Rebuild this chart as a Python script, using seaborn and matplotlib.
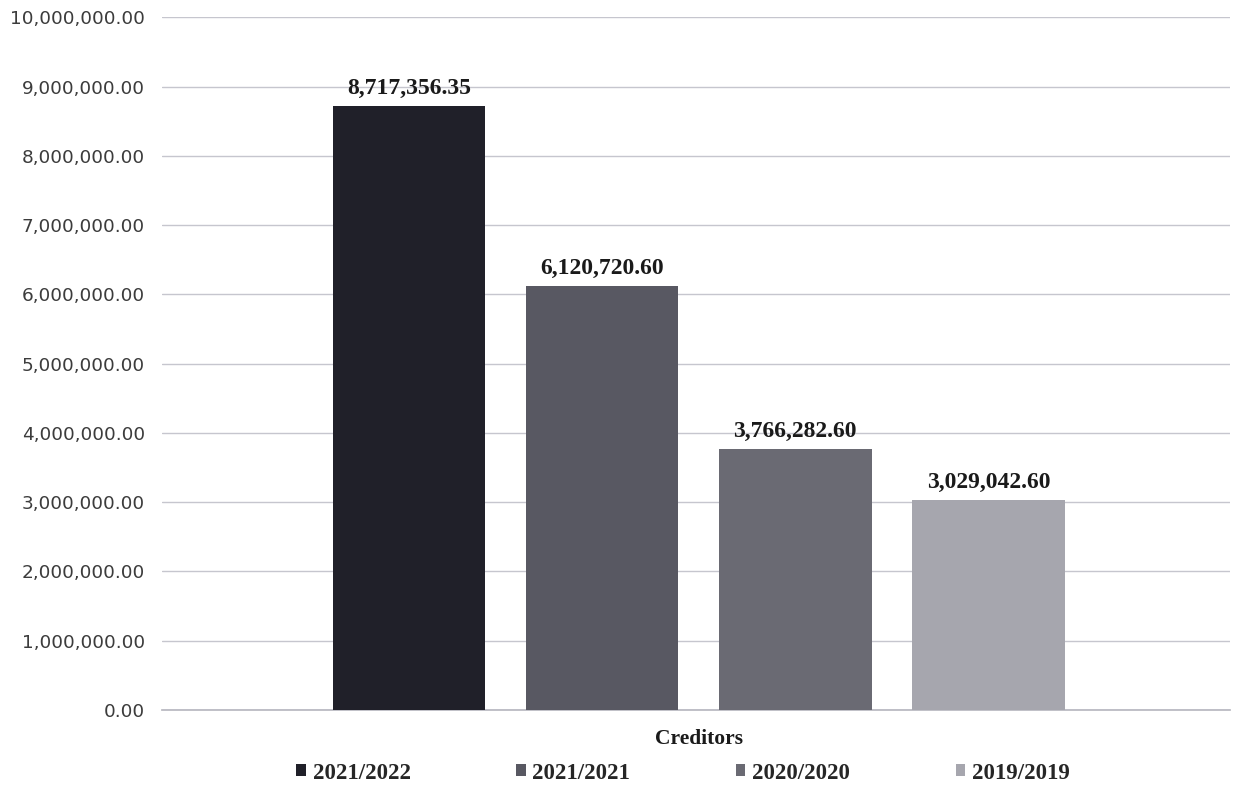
import pandas as pd
import seaborn as sns
import matplotlib.pyplot as plt
from matplotlib.ticker import FuncFormatter

categories = ["Creditors"]
years = ["2021/2022", "2021/2021", "2020/2020", "2019/2019"]
values = [8717356.35, 6120720.60, 3766282.60, 3029042.60]
bar_colors = ["#202029", "#585862", "#6a6a73", "#a6a6ae"]

df = pd.DataFrame({
    "category": categories * len(years),
    "year": years,
    "amount": values,
})

sns.set_theme(style="white")
plt.rcParams["font.family"] = ["DejaVu Sans"]

fig = plt.figure(figsize=(12.33, 7.85), dpi=100)
ax = fig.add_axes([0.131, 0.0955, 0.8666, 0.8825])

sns.barplot(data=df, x="category", y="amount", hue="year", hue_order=years,
            palette=bar_colors, width=0.8, gap=0.21, saturation=1,
            errorbar=None, ax=ax, zorder=3, linewidth=0)

ax.set_ylim(0, 10000000)
ax.set_yticks(range(0, 10000001, 1000000))
ax.yaxis.set_major_formatter(FuncFormatter(lambda v, p: f"{v:,.2f}"))
ax.set_xlim(-0.556, 0.55)
ax.grid(axis="y", color="#c6c6ce", linewidth=1.0, zorder=0)
ax.grid(axis="x", visible=False)
for s in ["top", "right", "left"]:
    ax.spines[s].set_visible(False)
ax.spines["bottom"].set_color("#b8b8c0")
ax.tick_params(axis="y", length=0, pad=12, labelsize=13.3, labelcolor="#3c3c3c")
ax.tick_params(axis="x", length=0, pad=14)
for t in ax.get_xticklabels():
    t.set_fontfamily("Liberation Serif")
    t.set_fontweight("bold")
    t.set_fontsize(15.5)
    t.set_color("#1a1a1a")
ax.set_xlabel("")
ax.set_ylabel("")

for cont in ax.containers:
    ax.bar_label(cont, labels=[f"{v:,.2f}" for v in cont.datavalues], padding=5,
                 fontfamily="Liberation Serif", fontweight="bold", fontsize=17,
                 color="#1a1a1a")

ax.legend(loc="center", bbox_to_anchor=(0.488, -0.091), ncol=4, frameon=False,
          handlelength=0.42, handleheight=0.42, handletextpad=0.3, columnspacing=4.6,
          prop={"family": "Liberation Serif", "weight": "bold", "size": 16.5})

fig.savefig("out.png", dpi=100, facecolor="white")
